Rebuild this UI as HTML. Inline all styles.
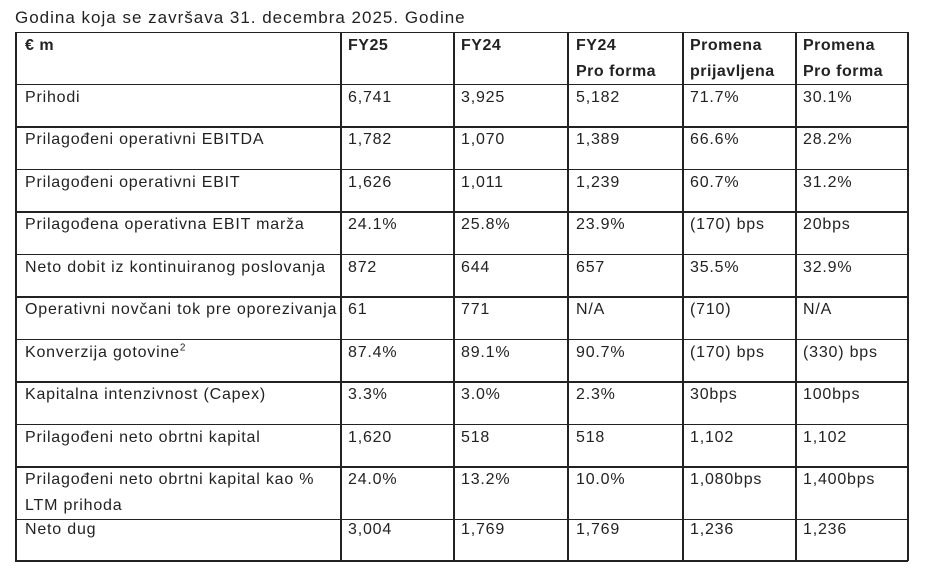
<!DOCTYPE html>
<html><head><meta charset="utf-8"><style>
body{margin:0;width:930px;height:576px;background:#fff;position:relative;overflow:hidden;font-family:"Liberation Sans",Arial,sans-serif;color:#222;}
.t{position:absolute;font-size:16px;letter-spacing:0.8px;line-height:26px;white-space:nowrap;}
.h{position:absolute;background:#222;height:1.5px;left:15px;width:893px;}
.v{position:absolute;background:#222;width:1.5px;top:32px;height:529px;}
b{font-weight:bold;letter-spacing:0.5px;}
</style></head><body>
<div class="t" style="left:15px;top:5px;font-size:17px;letter-spacing:1px;">Godina koja se završava 31. decembra 2025. Godine</div>
<div class="h" style="top:31.5px"></div>
<div class="h" style="top:83.5px"></div>
<div class="h" style="top:126px"></div>
<div class="h" style="top:168.5px"></div>
<div class="h" style="top:211px"></div>
<div class="h" style="top:253.5px"></div>
<div class="h" style="top:296px"></div>
<div class="h" style="top:338.5px"></div>
<div class="h" style="top:381px"></div>
<div class="h" style="top:423.5px"></div>
<div class="h" style="top:466px"></div>
<div class="h" style="top:518.5px"></div>
<div class="h" style="top:560px"></div>
<div class="v" style="left:15px"></div>
<div class="v" style="left:340px"></div>
<div class="v" style="left:453px"></div>
<div class="v" style="left:567px"></div>
<div class="v" style="left:682px"></div>
<div class="v" style="left:795px"></div>
<div class="v" style="left:907px"></div>
<div id="c"></div>
<script>
var rows=[
["<b>€ m</b>","<b>FY25</b>","<b>FY24</b>","<b>FY24<br>Pro forma</b>","<b>Promena<br>prijavljena</b>","<b>Promena<br>Pro forma</b>"],
["Prihodi","6,741","3,925","5,182","71.7%","30.1%"],
["Prilagođeni operativni EBITDA","1,782","1,070","1,389","66.6%","28.2%"],
["Prilagođeni operativni EBIT","1,626","1,011","1,239","60.7%","31.2%"],
["Prilagođena operativna EBIT marža","24.1%","25.8%","23.9%","(170) bps","20bps"],
["Neto dobit iz kontinuiranog poslovanja","872","644","657","35.5%","32.9%"],
["Operativni novčani tok pre oporezivanja","61","771","N/A","(710)","N/A"],
["Konverzija gotovine<sup style='font-size:10px;line-height:0'>2</sup>","87.4%","89.1%","90.7%","(170) bps","(330) bps"],
["Kapitalna intenzivnost (Capex)","3.3%","3.0%","2.3%","30bps","100bps"],
["Prilagođeni neto obrtni kapital","1,620","518","518","1,102","1,102"],
["Prilagođeni neto obrtni kapital kao %<br>LTM prihoda","24.0%","13.2%","10.0%","1,080bps","1,400bps"],
["Neto dug","3,004","1,769","1,769","1,236","1,236"]];
var tops=[32,84,126.5,169,211.5,254,296.5,339,381.5,424,466.5,516];
var xs=[25,348,461,576,690,803];
var h="";
rows.forEach(function(r,i){r.forEach(function(c,j){h+='<div class="t" style="left:'+xs[j]+'px;top:'+(tops[i]+0.5)+'px">'+c+'</div>';});});
document.getElementById('c').innerHTML=h;
</script>
</body></html>
